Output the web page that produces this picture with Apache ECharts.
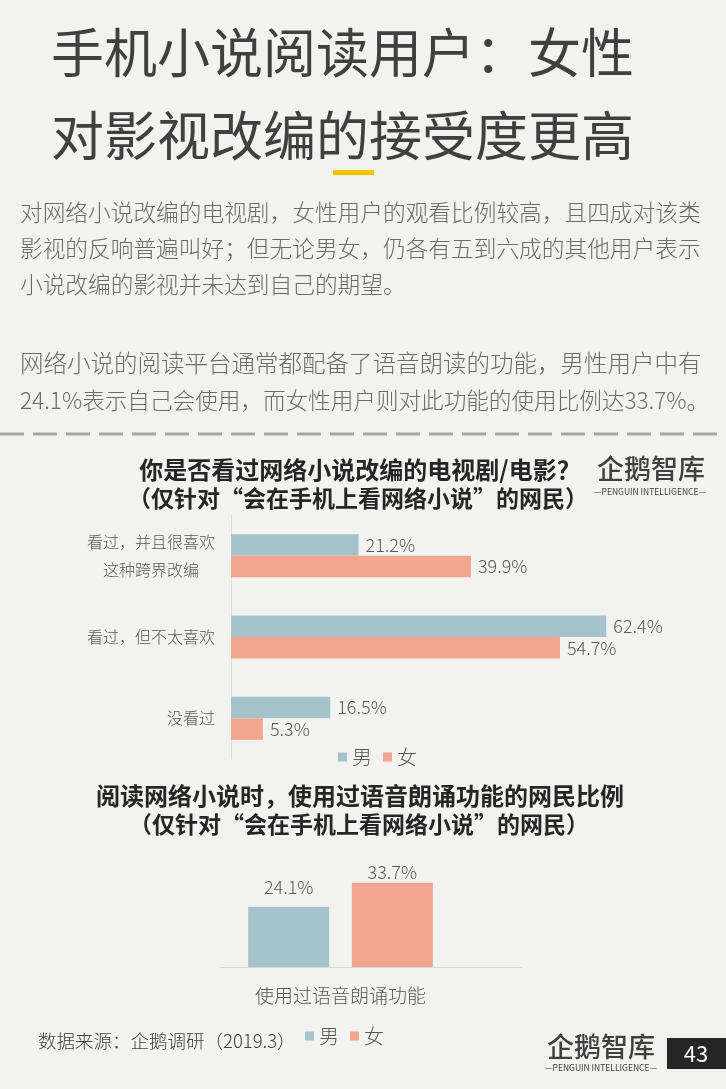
<!DOCTYPE html>
<html>
<head>
<meta charset="utf-8">
<title>手机小说阅读用户：女性对影视改编的接受度更高</title>
<script src="https://cdn.jsdelivr.net/npm/echarts@6/dist/echarts.min.js"></script>
<style>
html, body { margin: 0; padding: 0; background: #f2f3f0; }
#page { width: 726px; height: 1089px; }
</style>
</head>
<body>
<div id="page"></div>
<script>
// 数据
const seriesNames = ['男', '女'];
const seenCategories = ['看过，并且很喜欢\n这种跨界改编', '看过，但不太喜欢', '没看过'];
const seenMale = [21.2, 62.4, 16.5];
const seenFemale = [39.9, 54.7, 5.3];
const voiceCategories = ['使用过语音朗诵功能'];
const voiceMale = [24.1];
const voiceFemale = [33.7];

const FONT = "'Noto Sans CJK SC', 'Microsoft YaHei', sans-serif";
const MALE = '#a6c3cb';
const FEMALE = '#f2a68f';
const GREY = '#595959';

// 文字小工具
function txt(str, x, y, size, color, weight, align) {
    return {
        type: 'text',
        silent: true,
        style: {
            text: str,
            x: x,
            y: y,
            fill: color,
            font: (weight || 'normal') + ' ' + size + 'px ' + FONT,
            textAlign: align || 'left',
            align: align || 'left',
            textVerticalAlign: 'middle',
            verticalAlign: 'middle'
        }
    };
}

const valueLabel = {
    show: true,
    formatter: '{c}%',
    color: GREY,
    fontSize: 18,
    fontWeight: 300,
    fontFamily: FONT
};

const legendBase = {
    data: seriesNames,
    icon: 'rect',
    itemWidth: 9,
    itemHeight: 9,
    itemGap: 11,
    selectedMode: false,
    padding: 0,
    textStyle: { fontSize: 20, color: GREY, fontWeight: 300, fontFamily: FONT }
};

const option = {
    backgroundColor: '#f2f3f0',
    animation: false,
    graphic: [
        txt('手机小说阅读用户：女性', 51, 53, 53, '#404040', 'normal'),
        txt('对影视改编的接受度更高', 51, 136, 53, '#404040', 'normal'),
        { type: 'rect', silent: true, shape: { x: 333, y: 170, width: 41, height: 5 }, style: { fill: '#f5c400' } },

        txt('对网络小说改编的电视剧，女性用户的观看比例较高，且四成对该类', 20, 212, 22.7, '#6b6b6b', 300),
        txt('影视的反响普遍叫好；但无论男女，仍各有五到六成的其他用户表示', 20, 248, 22.7, '#6b6b6b', 300),
        txt('小说改编的影视并未达到自己的期望。', 20, 284, 22.7, '#6b6b6b', 300),
        txt('网络小说的阅读平台通常都配备了语音朗读的功能，男性用户中有', 20, 363, 23.5, '#6b6b6b', 300),
        txt('24.1%表示自己会使用，而女性用户则对此功能的使用比例达33.7%。', 20, 400, 22.6, '#6b6b6b', 300),

        { type: 'line', silent: true, shape: { x1: 0, y1: 434, x2: 726, y2: 434 },
          style: { stroke: '#a6a6a6', lineWidth: 3, lineDash: [24, 9] } },

        txt('企鹅智库', 597, 469, 27, '#404040', 500),
        txt('—PENGUIN INTELLIGENCE—', 650, 492, 8.5, '#404040', 'normal', 'center'),

        txt('你是否看过网络小说改编的电视剧/电影？', 360, 470, 24, '#262626', 'bold', 'center'),
        txt('（仅针对“会在手机上看网络小说”的网民）', 358, 498, 23, '#262626', 'bold', 'center'),
        txt('阅读网络小说时，使用过语音朗诵功能的网民比例', 360, 796, 24, '#262626', 'bold', 'center'),
        txt('（仅针对“会在手机上看网络小说”的网民）', 359, 824, 23, '#262626', 'bold', 'center'),

        txt('数据来源：企鹅调研（2019.3）', 38, 1041, 18.5, '#404040', 300),
        txt('企鹅智库', 547, 1047, 27, '#404040', 500),
        txt('—PENGUIN INTELLIGENCE—', 601, 1068, 8.5, '#404040', 'normal', 'center'),
        { type: 'rect', silent: true, shape: { x: 667, y: 1038, width: 59, height: 31 }, style: { fill: '#262626' } },
        txt('43', 696, 1054, 22, '#ffffff', 'normal', 'center')
    ],
    legend: [
        Object.assign({}, legendBase, { left: 338, top: 747 }),
        Object.assign({}, legendBase, { left: 305, top: 1026 })
    ],
    grid: [
        { left: 231, top: 515, width: 421, height: 244 },
        { left: 220, top: 867, width: 241, height: 100 },
        { left: 220, top: 867, width: 302, height: 100 }
    ],
    xAxis: [
        { gridIndex: 0, type: 'value', min: 0, max: 70, show: false },
        {
            gridIndex: 1, type: 'category', data: voiceCategories,
            axisLine: { show: false }, axisTick: { show: false },
            axisLabel: { margin: 19, fontSize: 19, color: GREY, fontWeight: 300, fontFamily: FONT }
        },
        {
            gridIndex: 2, type: 'category', data: voiceCategories,
            axisLine: { lineStyle: { color: '#d9d9d9' } }, axisTick: { show: false }, axisLabel: { show: false }
        }
    ],
    yAxis: [
        {
            gridIndex: 0, type: 'category', data: seenCategories, inverse: true,
            axisLine: { lineStyle: { color: '#d9d9d9' } }, axisTick: { show: false },
            axisLabel: {
                interval: 0,
                margin: 16,
                formatter: function (v) {
                    return v.split('\n').map(function (s) { return '{a|' + s + '}'; }).join('\n');
                },
                rich: {
                    a: { align: 'center', fontSize: 16, lineHeight: 28, color: GREY, fontWeight: 300, fontFamily: FONT }
                }
            }
        },
        { gridIndex: 1, type: 'value', min: 0, max: 40, show: false },
        { gridIndex: 2, type: 'value', min: 0, max: 40, show: false }
    ],
    series: [
        {
            name: '男', type: 'bar', xAxisIndex: 0, yAxisIndex: 0, data: seenMale,
            barWidth: 21.5, barGap: '0%', itemStyle: { color: MALE },
            label: Object.assign({ position: 'right', distance: 7 }, valueLabel)
        },
        {
            name: '女', type: 'bar', xAxisIndex: 0, yAxisIndex: 0, data: seenFemale,
            barWidth: 21.5, barGap: '0%', itemStyle: { color: FEMALE },
            label: Object.assign({ position: 'right', distance: 7 }, valueLabel)
        },
        {
            name: '男', type: 'bar', xAxisIndex: 1, yAxisIndex: 1, data: voiceMale,
            barWidth: 81, barGap: '28%', itemStyle: { color: MALE },
            label: Object.assign({ position: 'top', distance: 11 }, valueLabel)
        },
        {
            name: '女', type: 'bar', xAxisIndex: 1, yAxisIndex: 1, data: voiceFemale,
            barWidth: 81, barGap: '28%', itemStyle: { color: FEMALE },
            label: Object.assign({ position: 'top', distance: 2 }, valueLabel)
        }
    ]
};

const chart = echarts.init(document.getElementById('page'));
chart.setOption(option);
</script>
</body>
</html>
